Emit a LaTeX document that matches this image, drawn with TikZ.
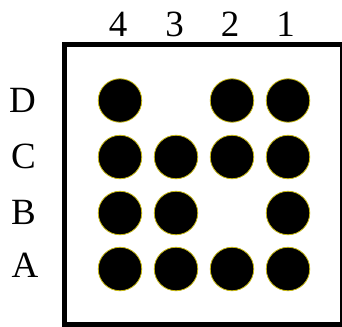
\documentclass[tikz,border=0pt]{standalone}
\usepackage{fontspec}
\setmainfont{Liberation Serif}
\usepackage{tikz}
\usetikzlibrary{positioning}
\definecolor{bordBille}{RGB}{200,185,20}

\begin{document}
\begin{tikzpicture}[x=1pt, y=-1pt,
  bille/.style={circle, fill=black, draw=bordBille, line width=0.8pt,
                minimum size=43.5pt, inner sep=0pt},
  repere/.style={inner sep=0pt, font=\fontsize{37}{37}\selectfont},
  cadre/.style={draw=black, line width=5pt, inner sep=0pt, outer sep=0pt,
                minimum width=278pt, minimum height=280pt}]

  \clip (0,0) rectangle (342,326);

  \node[cadre] (boite) at (203.5,184.5) {};

  % numeros de colonnes
  \node[repere] (n4) at (118,24) {4};
  \node[repere] (n3) at (174.5,24) {3};
  \node[repere] (n2) at (230,24) {2};
  \node[repere] (n1) at (285.5,24) {1};

  % lettres de rangees
  \node[repere] (lD) at (22.5,100.5) {D};
  \node[repere] (lC) at (23.5,156.5) {C};
  \node[repere] (lB) at (23.5,212.5) {B};
  \node[repere] (lA) at (25,265.5) {A};

  % rangee D
  \node[bille] (D4) at (120,100.5) {};
  \node[bille] (D2) at (232,100.5) {};
  \node[bille] (D1) at (288,100.5) {};
  % rangee C
  \node[bille] (C4) at (120,157) {};
  \node[bille] (C3) at (176,157) {};
  \node[bille] (C2) at (232,157) {};
  \node[bille] (C1) at (288,157) {};
  % rangee B
  \node[bille] (B4) at (120,213) {};
  \node[bille] (B3) at (176,213) {};
  \node[bille] (B1) at (288,213) {};
  % rangee A
  \node[bille] (A4) at (120,269) {};
  \node[bille] (A3) at (176,269) {};
  \node[bille] (A2) at (232,269) {};
  \node[bille] (A1) at (288,269) {};
\end{tikzpicture}
\end{document}
